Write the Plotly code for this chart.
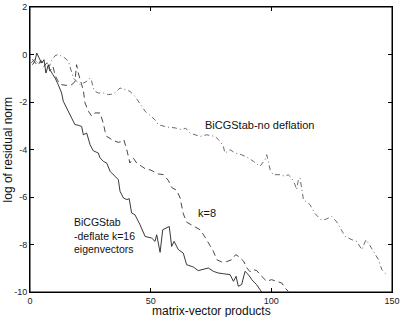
import plotly.graph_objects as go

# k=16 deflation (solid)
x_k16 = [1, 2, 2.8, 3.9, 4.8, 5.8, 6.6, 7.6, 8.3, 9.5, 10.4, 11.7, 13.1, 13.8, 15.2, 16.6, 18.6, 20,
         21.4, 22.1, 23.5, 24.9, 26.2, 28.3, 29, 30.4, 31.8, 33.2, 35.2, 36.6, 37.3, 38.7, 40.1, 41.1,
         42.1, 43.5, 45.6, 47.7, 50.4, 51.8, 52.5, 53.9, 55, 56.7, 57.7, 58.7, 59.7, 61.5, 63.5, 64.9,
         67.7, 69.7, 71.8, 73.9, 76, 78, 80.1, 82.9, 84.3, 85.4, 86.3, 87.7, 89.1, 90.5, 91.9, 93.9,
         95.3, 96]
y_k16 = [-0.43, -0.29, 0.06, -0.15, -0.36, -0.22, -0.78, -0.43, -0.64, -0.85, -0.99, -1.27, -1.62,
         -1.97, -2.25, -2.53, -2.95, -2.98, -3.03, -3.38, -3.31, -3.8, -4.05, -4.15, -4.35, -4.5,
         -4.57, -4.92, -5.13, -5.27, -5.76, -6.04, -6.11, -6.07, -6.67, -6.75, -7.17, -7.66, -7.73,
         -7.87, -7.59, -8.33, -7.38, -7.28, -7.24, -8.08, -7.87, -8.22, -8.36, -8.85, -8.95, -9.1,
         -9.06, -8.99, -9.13, -9.2, -9.23, -9.27, -9.55, -9.34, -9.76, -9.69, -9.13, -9.27, -9.48,
         -9.69, -9.9, -10]

# k=8 deflation (dashed)
x_k8 = [1, 3, 4.5, 5.8, 7, 8.3, 9.5, 10.5, 11.5, 12.4, 13.1, 15, 17.3, 18.6, 19.3, 20, 21.4, 22.1,
        22.8, 24.2, 25.6, 26.9, 29, 30.4, 31.1, 31.8, 34.5, 36.6, 37.9, 38.9, 40.1, 40.8, 41.4, 42.8,
        44.2, 46.3, 48.3, 49.7, 51.8, 53.2, 55.3, 57.3, 58.7, 60.8, 62.2, 63.5, 64.9, 67, 69, 70.5,
        72.6, 74.6, 76, 77.4, 79.5, 81.5, 83.6, 85.2, 86.4, 88.5, 89.9, 91.2, 92.6, 94, 95.3, 97.4,
        98.1, 100.1, 102.2, 104.3, 105.7, 107]
y_k8 = [-0.2, -0.45, -0.25, -0.5, -0.35, -0.7, -0.5, -0.9, -1.1, -1.25, -1.27, -1.3, -1.27, -1.15,
        -0.43, -0.78, -1.27, -1.5, -2.04, -2.39, -2.6, -2.46, -2.46, -2.9, -3.24, -3.45, -3.62, -3.7,
        -3.66, -3.59, -4.01, -4.36, -4.57, -4.36, -4.57, -4.71, -4.85, -4.85, -4.95, -5.03, -5.06,
        -5.3, -5.6, -5.72, -6.04, -6.7, -7.06, -7.17, -7.28, -7.38, -7.7, -8.04, -8.29, -8.64, -8.74,
        -8.72, -8.64, -8.43, -8.5, -8.7, -8.99, -9.15, -9.06, -9.1, -9.27, -9.48, -9.55, -9.48,
        -9.55, -9.62, -9.83, -9.97]

# no deflation (dash-dot)
x_nodef = [0.5, 2, 3.5, 5, 6.5, 8, 9, 10.4, 11.7, 13.1, 14.5, 15.9, 16.6, 17.3, 18, 19.3, 20.7,
           22.1, 23.5, 24.9, 25.5, 26.2, 26.9, 28.3, 30.4, 32.5, 34.5, 35.9, 37.3, 39.4, 41.4, 43.5,
           44.9, 46.3, 47.7, 49.7, 51.8, 53.2, 56.7, 60.1, 62.9, 64.5, 66.3, 70.5, 73.2, 76.7, 78.8,
           80.1, 80.8, 82.9, 85, 87.7, 90.5, 92.6, 95.3, 97.4, 98.1, 99.5, 100.8, 103.6, 105.7, 107,
           108.4, 109.8, 110.5, 111.2, 111.9, 113.3, 116, 118.1, 120.5, 122.3, 125, 127.1, 128.5,
           130.6, 133.4, 135.4, 137.5, 139.2, 140.9, 143, 144.4, 145.8, 147.8]
y_nodef = [-0.35, -0.2, -0.4, -0.3, -0.55, -0.5, -0.25, -0.05, 0, -0.08, -0.15, -0.29, -0.5, -0.71,
           -0.99, -1.13, -1.27, -1.2, -1.13, -0.99, -1.1, -1.41, -1.55, -1.62, -1.62, -1.69, -1.66,
           -1.55, -1.41, -1.48, -1.55, -1.76, -1.95, -2.18, -2.39, -2.55, -2.75, -2.96, -3.05, -3.09,
           -3.17, -3.1, -3.31, -3.45, -3.38, -3.45, -3.66, -3.87, -4.15, -4.01, -4.15, -4.22, -4.36,
           -4.5, -4.71, -4.43, -4.22, -4.85, -5.06, -5.06, -5.13, -5.06, -5.2, -5.48, -5.69, -5.27,
           -5.2, -6.11, -6.32, -6.7, -6.95, -6.95, -6.82, -7.05, -7.31, -7.66, -7.8, -7.87, -8.22,
           -7.8, -8.05, -8.4, -8.64, -9.06, -9.27]

x_ticks = [0, 50, 100, 150]
y_ticks = [2, 0, -2, -4, -6, -8, -10]

FONT = "Liberation Sans, Arial, Helvetica, sans-serif"

fig = go.Figure()
fig.add_trace(go.Scatter(x=x_k16, y=y_k16, mode="lines",
                         line=dict(color="#222222", width=0.9, dash="solid")))
fig.add_trace(go.Scatter(x=x_k8, y=y_k8, mode="lines",
                         line=dict(color="#333333", width=0.9, dash="6px,4px")))
fig.add_trace(go.Scatter(x=x_nodef, y=y_nodef, mode="lines",
                         line=dict(color="#444444", width=0.8, dash="5px,3px,1px,3px")))
# invisible trace on the top/right axes so the frame axes are drawn
fig.add_trace(go.Scatter(x=x_ticks, y=[None] * len(x_ticks), xaxis="x2", yaxis="y2",
                         mode="lines", hoverinfo="skip", showlegend=False))

axis_common = dict(showgrid=False, zeroline=False, showline=True, linecolor="black",
                   linewidth=1, ticks="inside", ticklen=4, tickcolor="black",
                   automargin=False,
                   tickfont=dict(family=FONT, size=9, color="#222"))

fig.update_layout(
    width=402, height=317, margin=dict(l=30, r=10, t=7, b=25),
    paper_bgcolor="white", plot_bgcolor="white", showlegend=False,
    xaxis=dict(range=[0, 150], tickvals=x_ticks, ticktext=[str(v) for v in x_ticks],
               **axis_common),
    yaxis=dict(range=[-10, 2], tickvals=y_ticks, ticktext=[str(v) for v in y_ticks],
               **axis_common),
    xaxis2=dict(range=[0, 150], tickvals=x_ticks, showticklabels=False, overlaying="x",
                side="top", anchor="y2", **axis_common),
    yaxis2=dict(range=[-10, 2], tickvals=y_ticks, showticklabels=False, overlaying="y",
                side="right", anchor="x2", **axis_common),
)

ann = [
    dict(text="matrix-vector products", xref="paper", yref="paper", x=0.5, y=-0.067,
         xanchor="center", yanchor="middle", showarrow=False,
         font=dict(family=FONT, size=12, color="#111")),
    dict(text="log of residual norm", xref="paper", yref="paper", x=-0.061, y=0.5,
         xanchor="center", yanchor="middle", textangle=-90, showarrow=False,
         font=dict(family=FONT, size=12, color="#111")),
    dict(text="BiCGStab-no deflation", x=71.7, y=-2.96, xanchor="left", yanchor="middle",
         showarrow=False, font=dict(family=FONT, size=11, color="#111")),
    dict(text="k=8", x=68.8, y=-6.66, xanchor="left", yanchor="middle",
         showarrow=False, font=dict(family=FONT, size=11, color="#111")),
    dict(text="BiCGStab<br>-deflate k=16<br>eigenvectors", x=17.4, y=-7.6, xanchor="left",
         yanchor="middle", align="left", showarrow=False,
         font=dict(family=FONT, size=10.5, color="#111")),
]
fig.update_layout(annotations=ann,
                  shapes=[dict(type="rect", xref="paper", yref="paper", x0=0, y0=0, x1=1, y1=1,
                               line=dict(color="black", width=1), layer="above")])

fig.write_html("out.html", config={"displayModeBar": False},
               post_script="document.body.style.margin='0';document.body.style.padding='0';"
                           "document.body.style.overflow='hidden';")
